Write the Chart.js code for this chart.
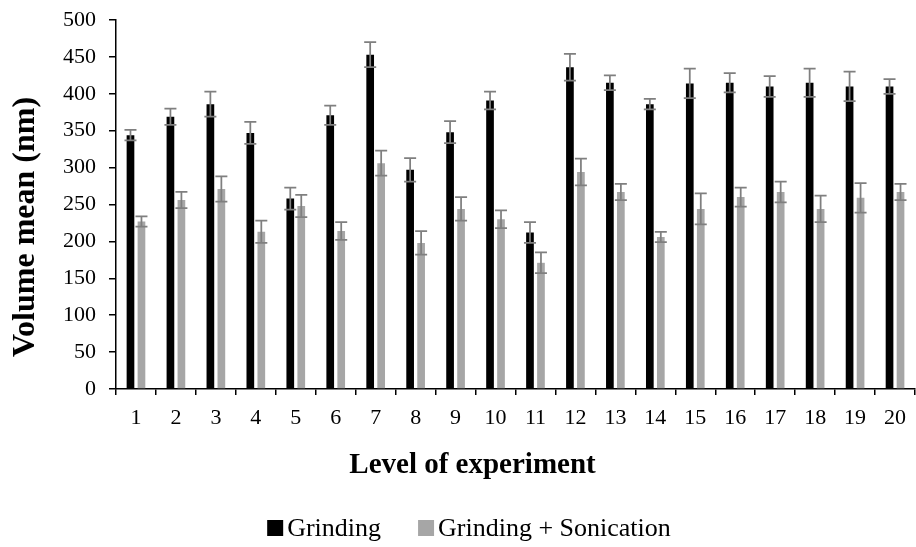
<!DOCTYPE html>
<html>
<head>
<meta charset="utf-8">
<script src="https://cdn.jsdelivr.net/npm/chart.js@4.4.1/dist/chart.umd.min.js"></script>
<style>
  html, body { margin: 0; padding: 0; background: #ffffff; }
  #wrap { width: 916px; height: 547px; position: relative; }
</style>
</head>
<body>
<div id="wrap"><canvas id="c" width="916" height="547"></canvas></div>
<script>
const categories = ['1','2','3','4','5','6','7','8','9','10','11','12','13','14','15','16','17','18','19','20'];
const seriesNames = ['Grinding', 'Grinding + Sonication'];
const grinding = [344, 369, 386, 347, 258, 371, 453, 297, 348, 391, 212, 436, 415, 386, 414, 415, 410, 415, 410, 410];
const grindingErr = [7, 11, 17, 15, 15, 13, 17, 16, 15, 12, 14, 18, 10, 7, 20, 13, 14, 19, 20, 10];
const sonication = [227, 256, 271, 213, 248, 214, 306, 198, 244, 230, 171, 294, 267, 206, 244, 260, 267, 244, 259, 267];
const sonicationErr = [7, 11, 17, 15, 15, 12, 17, 16, 16, 12, 14, 18, 11, 7, 21, 13, 14, 18, 20, 11];
const yTicks = [0, 50, 100, 150, 200, 250, 300, 350, 400, 450, 500];
const xTitle = 'Level of experiment';
const yTitle = 'Volume mean (nm)';

const SERIF = '"Liberation Serif", "Times New Roman", serif';

const errorBarPlugin = {
  id: 'errorBars',
  afterDatasetsDraw(chart) {
    const ctx = chart.ctx;
    const yScale = chart.scales.y;
    ctx.save();
    ctx.strokeStyle = '#7f7f7f';
    ctx.lineWidth = 1.75;
    chart.data.datasets.forEach((ds, di) => {
      const meta = chart.getDatasetMeta(di);
      meta.data.forEach((el, i) => {
        const v = ds.data[i], e = ds.errors[i];
        const x = el.x;
        const yt = yScale.getPixelForValue(v + e);
        const yb = yScale.getPixelForValue(v - e);
        const hw = 6;
        ctx.beginPath();
        ctx.moveTo(x, yt); ctx.lineTo(x, yb);
        ctx.moveTo(x - hw, yt); ctx.lineTo(x + hw, yt);
        ctx.moveTo(x - hw, yb); ctx.lineTo(x + hw, yb);
        ctx.stroke();
      });
    });
    ctx.restore();
  }
};

const textPlugin = {
  id: 'texts',
  afterDraw(chart) {
    const ctx = chart.ctx;
    ctx.save();
    ctx.fillStyle = '#000000';
    // y axis title
    ctx.font = 'bold 32px ' + SERIF;
    ctx.textAlign = 'center';
    ctx.textBaseline = 'middle';
    ctx.translate(26, 227);
    ctx.rotate(-Math.PI / 2);
    ctx.fillText(yTitle, 0, 0);
    ctx.setTransform(1, 0, 0, 1, 0, 0);
    // x axis title
    ctx.font = 'bold 29px ' + SERIF;
    ctx.textAlign = 'center';
    ctx.textBaseline = 'alphabetic';
    ctx.fillText(xTitle, 472.5, 473);
    // legend
    ctx.font = '26px ' + SERIF;
    ctx.textAlign = 'left';
    const box = 16, gapBoxText = 4, gapItems = 37;
    const items = chart.data.datasets.map(ds => ({ label: ds.label, color: ds.backgroundColor, w: ctx.measureText(ds.label).width }));
    let total = 0;
    items.forEach((it, i) => { total += box + gapBoxText + it.w + (i < items.length - 1 ? gapItems : 0); });
    let x = 469 - total / 2;
    items.forEach(it => {
      ctx.fillStyle = it.color;
      ctx.fillRect(x, 520, box, box);
      ctx.fillStyle = '#000000';
      ctx.fillText(it.label, x + box + gapBoxText, 536);
      x += box + gapBoxText + it.w + gapItems;
    });
    ctx.restore();
  }
};

new Chart(document.getElementById('c'), {
  type: 'bar',
  data: {
    labels: categories,
    datasets: [
      { label: seriesNames[0], data: grinding, errors: grindingErr, backgroundColor: '#000000', borderWidth: 0 },
      { label: seriesNames[1], data: sonication, errors: sonicationErr, backgroundColor: '#a6a6a6', borderWidth: 0 }
    ]
  },
  options: {
    responsive: false,
    animation: false,
    devicePixelRatio: 1,
    categoryPercentage: 0.55,
    barPercentage: 0.7,
    layout: { padding: { top: 20, right: 1, bottom: 113, left: 0 } },
    plugins: {
      legend: { display: false },
      tooltip: { enabled: false },
      title: { display: false }
    },
    scales: {
      x: {
        afterFit(scale) { scale.height = 45; scale.paddingLeft = 0; scale.paddingRight = 0; },
        grid: { display: true, drawOnChartArea: false, drawTicks: true, tickLength: 6, color: '#000000', lineWidth: 1.5, offset: true },
        border: { display: true, color: '#000000', width: 1.5 },
        ticks: { color: '#000000', font: { family: SERIF, size: 22 }, padding: 10, maxRotation: 0, autoSkip: false }
      },
      y: {
        min: 0, max: 500,
        afterFit(scale) { scale.width = 116; scale.paddingTop = 0; scale.paddingBottom = 0; },
        afterBuildTicks(scale) { scale.ticks = yTicks.map(v => ({ value: v })); },
        grid: { display: true, drawOnChartArea: false, drawTicks: true, tickLength: 7, color: '#000000', lineWidth: 1.5 },
        border: { display: true, color: '#000000', width: 1.5 },
        ticks: { color: '#000000', font: { family: SERIF, size: 22 }, padding: 13 }
      }
    }
  },
  plugins: [errorBarPlugin, textPlugin]
});
</script>
</body>
</html>
